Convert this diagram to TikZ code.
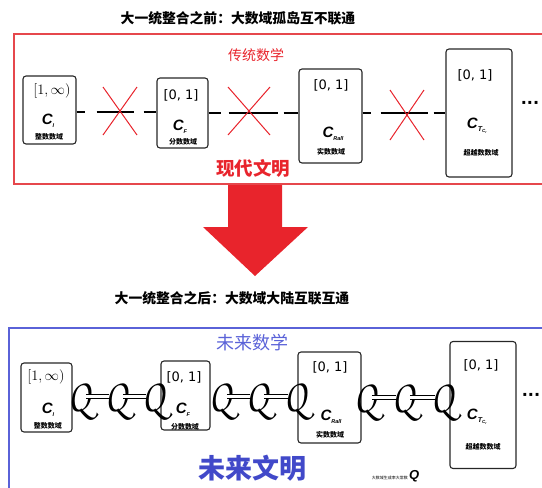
\documentclass[tikz,border=0pt]{standalone}
\usepackage{fontspec}
\usepackage{graphicx}
\newfontfamily\cjk{Noto Sans CJK SC}
\newfontfamily\djs{DejaVu Sans}
\newfontfamily\lsans{Liberation Sans}
\definecolor{myred}{HTML}{E8242C}
\definecolor{boxred}{HTML}{E6474C}
\definecolor{myblue}{HTML}{5A62D8}
\definecolor{darkblue}{HTML}{4149C9}
\newcommand\mysub[2]{#1\raisebox{-2.5pt}{\fontsize{5.5}{6}\selectfont #2}}
\newcommand\bigq{\scalebox{0.78}[1.02]{\fontencoding{OT1}\fontfamily{pzc}\fontseries{mb}\fontshape{it}\fontsize{46}{46}\selectfont Q}}
\tikzset{
  cbox/.style={draw=black!85, line width=1.1pt, rounded corners=3pt, inner sep=0pt},
  ival/.style={font=\djs\fontsize{13}{13}\selectfont, inner sep=0pt},
  ivinf/.style={font=\fontsize{15}{15}\selectfont, inner sep=0pt},
  cname/.style={font=\lsans\bfseries\itshape\fontsize{15}{15}\selectfont, inner sep=0pt},
  dlab/.style={font=\cjk\bfseries\fontsize{7}{7}\selectfont, inner sep=0pt},
  ttl/.style={font=\cjk\bfseries\fontsize{13.8}{14}\selectfont, inner sep=0pt},
  qn/.style={inner sep=0pt},
  qlink/.style={double, double distance=3pt, line width=1pt},
  xmark/.style={draw=myred, line width=1pt},
  dots/.style={font=\djs\bfseries\fontsize{16}{16}\selectfont, inner sep=0pt},
}
\begin{document}
\begin{tikzpicture}[x=1pt,y=-1pt]
\useasboundingbox (0,0) rectangle (542,488);
% ---------- top ----------
\node[ttl] (t1) at (238,18) {大一统整合之前：大数域孤岛互不联通};
\draw[boxred, line width=1.2pt] (14,34) rectangle (548,184);
\node[font=\cjk\fontsize{14}{14}\selectfont, text=myred, inner sep=0pt] (tm) at (256,55) {传统数学};
\node[font=\cjk\bfseries\fontsize{18.5}{19}\selectfont, text=myred, inner sep=0pt] (xd) at (253,168) {现代文明};

\node[cbox, minimum width=53pt, minimum height=68pt] (a1) at (49.5,110) {};
\node[cbox, minimum width=51pt, minimum height=70pt] (a2) at (182.5,113) {};
\node[cbox, minimum width=63pt, minimum height=94pt] (a3) at (330.5,116) {};
\node[cbox, minimum width=66pt, minimum height=128pt] (a4) at (479,113) {};

\node[ivinf] (a1i) at (52,91) {$[1,\infty)$};
\node[cname] (a1c) at (48,121) {\mysub{C}{I}};
\node[dlab] (a1l) at (49,137) {整数数域};
\node[ival] (a2i) at (181,95) {[0, 1]};
\node[cname] (a2c) at (180,127) {\mysub{C}{F}};
\node[dlab] (a2l) at (183,142) {分数数域};
\node[ival] (a3i) at (331,85) {[0, 1]};
\node[cname] (a3c) at (333,134) {\mysub{C}{Rall}};
\node[dlab] (a3l) at (331,152) {实数数域};
\node[ival] (a4i) at (475,75) {[0, 1]};
\node[cname] (a4c) at (477,126) {C\raisebox{-3pt}{\fontsize{7}{7}\selectfont T\raisebox{-1.5pt}{\fontsize{4.5}{5}\selectfont C\textsubscript{r}}}};
\node[dlab] (a4l) at (481,153) {超越数数域};
\node[dots] (d1) at (530,105) {···};

\coordinate (y1) at (0,112);
\coordinate (y2) at (0,113);
\coordinate (y3) at (0,113);
\draw[line width=1.3pt, dash pattern=on 8pt off 12pt on 37pt off 10pt on 14pt] (a1.east |- y1) -- (a2.west |- y1);
\draw[line width=1.3pt, dash pattern=on 12pt off 8pt on 49pt off 6pt on 16pt] (a2.east |- y2) -- (a3.west |- y2);
\draw[line width=1.3pt, dash pattern=on 8pt off 10pt on 47pt off 6pt on 13pt] (a3.east |- y3) -- (a4.west |- y3);

\draw[xmark] (103,87) -- (137,135) (137,87) -- (103,135);
\draw[xmark] (228,87) -- (270,135) (270,87) -- (228,135);
\draw[xmark] (390,90) -- (424,140) (424,90) -- (390,140);

% ---------- arrow ----------
\fill[myred] (228,185) -- (282,185) -- (282,227) -- (308,227) -- (255,276) -- (203,227) -- (228,227) -- cycle;

% ---------- bottom ----------
\node[ttl] (t2) at (232,298) {大一统整合之后：大数域大陆互联互通};
\draw[myblue, line width=1.6pt] (9,328) rectangle (548,495);
\node[font=\cjk\fontsize{18}{18}\selectfont, text=myblue, inner sep=0pt] (wm) at (252,343) {未来数学};
\node[font=\cjk\bfseries\fontsize{27}{27}\selectfont, text=darkblue, inner sep=0pt] (wl) at (252,468) {未来文明};

\node[cbox, minimum width=51pt, minimum height=69pt] (b1) at (46.5,397.5) {};
\node[cbox, minimum width=49pt, minimum height=69pt] (b2) at (185.5,395.5) {};
\node[cbox, minimum width=63pt, minimum height=91pt] (b3) at (329.5,397.5) {};
\node[cbox, minimum width=66pt, minimum height=127pt] (b4) at (483,405) {};

\node[ivinf] (b1i) at (46,377) {$[1,\infty)$};
\node[cname] (b1c) at (48,410) {\mysub{C}{I}};
\node[dlab] (b1l) at (48,426) {整数数域};
\node[ival] (b2i) at (184,377) {[0, 1]};
\node[cname] (b2c) at (183,410) {\mysub{C}{F}};
\node[dlab] (b2l) at (185,427) {分数数域};
\node[ival] (b3i) at (330,367) {[0, 1]};
\node[cname] (b3c) at (331,417) {\mysub{C}{Rall}};
\node[dlab] (b3l) at (330,435) {实数数域};
\node[ival] (b4i) at (481,365) {[0, 1]};
\node[cname] (b4c) at (477,417) {C\raisebox{-3pt}{\fontsize{7}{7}\selectfont T\raisebox{-1.5pt}{\fontsize{4.5}{5}\selectfont C\textsubscript{r}}}};
\node[dlab] (b4l) at (483,447) {超越数数域};
\node[dots] (d2) at (531,397) {···};

\node[qn] (q1) at (79,401) {\bigq};
\node[qn] (q2) at (116,401) {\bigq};
\node[qn] (q3) at (153,401) {\bigq};
\node[qn] (q4) at (220,401) {\bigq};
\node[qn] (q5) at (257,401) {\bigq};
\node[qn] (q6) at (295,401) {\bigq};
\node[qn] (q7) at (365,402) {\bigq};
\node[qn] (q8) at (403,402) {\bigq};
\node[qn] (q9) at (442,402) {\bigq};
\foreach \a/\b in {q1/q2,q2/q3,q4/q5,q5/q6,q7/q8,q8/q9}
  \draw[qlink] ([xshift=-4pt,yshift=5pt]\a.east) -- ([xshift=4pt,yshift=5pt]\b.west);

\node[font=\cjk\fontsize{4}{4}\selectfont, inner sep=0pt, anchor=east] (cst) at (408,478) {大数域生成率大常数};
\node[font=\lsans\bfseries\itshape\fontsize{13}{13}\selectfont, inner sep=0pt, anchor=west] (cq) at (409,476) {Q};
\end{tikzpicture}
\end{document}
